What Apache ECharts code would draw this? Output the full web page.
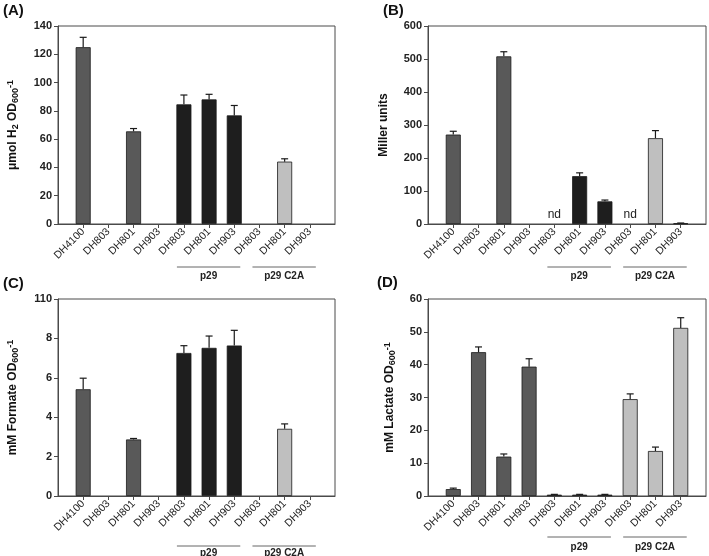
<!DOCTYPE html>
<html>
<head>
<meta charset="utf-8">
<script src="https://cdn.jsdelivr.net/npm/echarts@6/dist/echarts.min.js"></script>
<style>html,body{margin:0;padding:0;background:#fff;}#c{width:709px;height:556px;}</style>
</head>
<body>
<div id="c"></div>
<script>
// ---- data ----
const categories = ['DH4100','DH803','DH801','DH903','DH803','DH801','DH903','DH803','DH801','DH903'];
const groups = ['wt','wt','wt','wt','p29','p29','p29','c2a','c2a','c2a'];
const groupLabels = { p29: 'p29', c2a: 'p29 C2A' };

const h2Values   = [125, null, 65.5, null, 84.6, 88.1, 76.8, null, 44.1, null];
const h2Errors   = [7, 0, 2, 0, 6.6, 3.6, 7, 0, 2, 0];

const millerValues = [271, null, 508, null, null, 145, 68.6, null, 260, 2];
const millerErrors = [10, 0, 14, 0, 0, 10, 4, 0, 23, 1];
const millerNd     = [false, false, false, false, true, false, false, true, false, false];

const formateValues = [5.42, null, 2.87, null, 7.26, 7.52, 7.64, null, 3.41, null];
const formateErrors = [0.56, 0, 0.05, 0, 0.37, 0.6, 0.77, 0, 0.25, 0];
const formateTickLabels = ['0','2','4','6','8','110'];

const lactateValues = [2.1, 43.8, 12.0, 39.4, 0.4, 0.4, 0.4, 29.5, 13.7, 51.2];
const lactateErrors = [0.3, 1.6, 0.8, 2.4, 0.1, 0.1, 0.1, 1.6, 1.2, 3.1];

const panelLetters = ['(A)','(B)','(C)','(D)'];

// ---- styles ----
const FONT = "'Liberation Sans', Arial, sans-serif";
const colors = { wt: '#595959', p29: '#1e1e1e', c2a: '#bfbfbf' };
const axisColor = '#4a4a4a';

const panels = [
  { grid: {left: 58, top: 26, width: 277, height: 198}, max: 140, interval: 20,
    values: h2Values, errors: h2Errors, nameGap: 38,
    name: '{t|μmol H}{s|2}{t| OD}{s|600}{p|-1}', lineY: 43, textY: 52 },
  { grid: {left: 428, top: 26, width: 278, height: 198}, max: 600, interval: 100,
    values: millerValues, errors: millerErrors, nd: millerNd, nameGap: 37,
    name: '{t|Miller units}', lineY: 43, textY: 52 },
  { grid: {left: 58, top: 299, width: 277, height: 197}, max: 10, interval: 2,
    values: formateValues, errors: formateErrors, ticks: formateTickLabels, nameGap: 38,
    name: '{t|mM Formate OD}{s|600}{p|-1}', lineY: 50, textY: 57 },
  { grid: {left: 428, top: 299, width: 278, height: 197}, max: 60, interval: 10,
    values: lactateValues, errors: lactateErrors, nameGap: 31,
    name: '{t|mM Lactate OD}{s|600}{p|-1}', lineY: 41, textY: 51 }
];

const axisCats = [''].concat(categories, ['']);
const richName = {
  t: { fontSize: 12, fontWeight: 'bold', fontFamily: FONT, color: '#111', lineHeight: 14, verticalAlign: 'middle' },
  s: { fontSize: 9, fontWeight: 'bold', fontFamily: FONT, color: '#111', lineHeight: 9, verticalAlign: 'bottom' },
  p: { fontSize: 9, fontWeight: 'bold', fontFamily: FONT, color: '#111', lineHeight: 9, verticalAlign: 'top' }
};

const option = { animation: false, backgroundColor: '#fff', grid: [], xAxis: [], yAxis: [], series: [], graphic: [] };

panels.forEach((p, gi) => {
  option.grid.push(Object.assign({ show: true, borderColor: axisColor, borderWidth: 1, backgroundColor: 'transparent' }, p.grid));
  option.xAxis.push({
    type: 'category', gridIndex: gi, data: axisCats, boundaryGap: false,
    axisLine: { show: true, lineStyle: { color: axisColor, width: 1 } },
    axisTick: { show: true, length: 4, interval: (i) => i > 0 && i < axisCats.length - 1, lineStyle: { color: axisColor } },
    axisLabel: { interval: 0, rotate: 45, fontSize: 10.5, fontFamily: FONT, color: '#222', margin: 6 },
    splitLine: { show: false }
  });
  option.yAxis.push({
    type: 'value', gridIndex: gi, min: 0, max: p.max, interval: p.interval,
    name: p.name, nameLocation: 'middle', nameGap: p.nameGap, nameRotate: 90,
    nameTextStyle: { rich: richName },
    axisLine: { show: true, lineStyle: { color: axisColor, width: 1 } },
    axisTick: { show: true, length: 4, lineStyle: { color: axisColor } },
    axisLabel: {
      fontSize: 11, fontWeight: 'bold', fontFamily: FONT, color: '#222', margin: 6,
      formatter: p.ticks ? (v) => p.ticks[Math.round(v / p.interval)] : undefined
    },
    splitLine: { show: false }
  });
  option.series.push({
    type: 'bar', xAxisIndex: gi, yAxisIndex: gi, barWidth: 15,
    data: p.values.map((v, i) => {
      const item = { value: [i + 1, v === null ? (p.nd && p.nd[i] ? 0 : '-') : v],
        itemStyle: { color: colors[groups[i]], borderColor: '#1a1a1a', borderWidth: 0.8 } };
      if (p.nd && p.nd[i]) {
        item.itemStyle = { color: 'transparent', borderWidth: 0 };
        item.label = { show: true, position: 'top', formatter: 'nd', fontSize: 12, fontFamily: FONT, color: '#222', distance: 3 };
      }
      return item;
    })
  });
  option.series.push({
    type: 'custom', xAxisIndex: gi, yAxisIndex: gi, z: 5,
    data: p.values.map((v, i) => [i + 1, v === null ? 0 : v, p.errors[i]]),
    renderItem: (params, api) => {
      const e = api.value(2);
      if (!(e > 0)) return;
      const x = api.value(0), v = api.value(1);
      const top = api.coord([x, v + e]);
      const base = api.coord([x, v]);
      const st = { stroke: '#1a1a1a', lineWidth: 1.2 };
      return { type: 'group', children: [
        { type: 'line', shape: { x1: top[0], y1: base[1], x2: top[0], y2: top[1] }, style: st },
        { type: 'line', shape: { x1: top[0] - 3.5, y1: top[1], x2: top[0] + 3.5, y2: top[1] }, style: st }
      ]};
    }
  });
});

const chart = echarts.init(document.getElementById('c'), null, { renderer: 'canvas' });
chart.setOption(option);

// group brackets and panel letters
const graphics = [];
const letterPos = [[3, 3], [383, 3], [3, 276], [377, 275]];
panelLetters.forEach((t, i) => {
  graphics.push({ type: 'text', left: letterPos[i][0], top: letterPos[i][1],
    style: { text: t, font: "bold 15px " + FONT, fill: '#111' } });
});
panels.forEach((p, gi) => {
  const bottom = p.grid.top + p.grid.height;
  ['p29', 'c2a'].forEach((g) => {
    const idx = groups.map((x, i) => x === g ? i : -1).filter(i => i >= 0);
    const x1 = chart.convertToPixel({ gridIndex: gi }, [idx[0] + 1, 0])[0] - 7;
    const x2 = chart.convertToPixel({ gridIndex: gi }, [idx[idx.length - 1] + 1, 0])[0] + 6;
    graphics.push({ type: 'line', shape: { x1: x1, y1: bottom + p.lineY, x2: x2, y2: bottom + p.lineY },
      style: { stroke: '#666', lineWidth: 1 } });
    graphics.push({ type: 'text', x: (x1 + x2) / 2, y: bottom + p.textY,
      style: { text: groupLabels[g], font: "bold 10px " + FONT, fill: '#222', align: 'center', verticalAlign: 'middle' } });
  });
});
chart.setOption({ graphic: graphics });
</script>
</body>
</html>
